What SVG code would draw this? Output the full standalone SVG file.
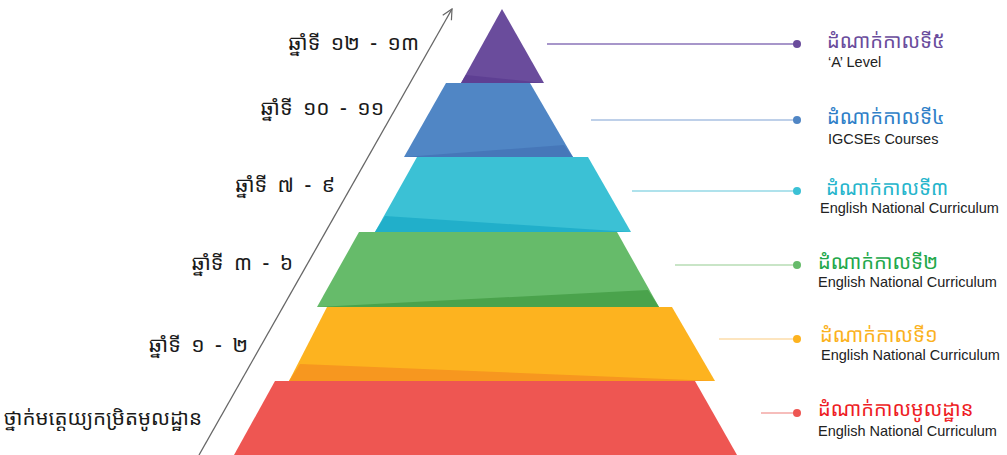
<svg xmlns="http://www.w3.org/2000/svg" width="1007" height="455" viewBox="0 0 1007 455">
<defs>
<style>
.km{font-family:"Noto Sans Khmer","Khmer OS","Noto Serif Khmer","Khmer OS System","DejaVu Sans",sans-serif;}
.yr{font-size:21px;fill:#1a1a1a;text-anchor:end;word-spacing:5px;}
.ttl{font-size:20px;}
.en{font-family:"Liberation Sans","Open Sans",sans-serif;font-size:14.5px;fill:#222;}
.lead{stroke-width:1.5;fill:none;}
</style>
<marker id="ah" viewBox="0 0 12 12" refX="11" refY="6" markerWidth="12" markerHeight="12" markerUnits="userSpaceOnUse" orient="auto">
<path d="M1,1 L11,6 L1,11" fill="none" stroke="#666" stroke-width="1.2"/>
</marker>
</defs>
<rect width="1007" height="455" fill="#fff"/>

<g id="connectors">
<line x1="199" y1="455" x2="452" y2="9" stroke="#666" stroke-width="1.3" marker-end="url(#ah)"/>
<line class="lead" x1="547" y1="44" x2="797" y2="44" stroke="#8a73b8"/>
<line class="lead" x1="591" y1="120" x2="797" y2="120" stroke="#a9c0e2"/>
<line class="lead" x1="632" y1="191" x2="797" y2="191" stroke="#94d8e6"/>
<line class="lead" x1="675" y1="265" x2="797" y2="265" stroke="#b7ddb5"/>
<line class="lead" x1="719" y1="339" x2="797" y2="339" stroke="#fddcaa"/>
<line class="lead" x1="761" y1="413" x2="797" y2="413" stroke="#f3a7a5"/>
</g>

<g id="tier5">
<polygon points="502,9 544,83 461,83" fill="#6a4c9c"/>
<polygon points="461,83 466,75 544,83" fill="#5e3f93"/>
<circle cx="797" cy="44" r="4" fill="#6a4c9c"/>
<text class="km ttl" x="827" y="48" fill="#6a4c9c">ដំណាក់កាលទី៥</text>
<text class="en" x="828" y="67">‘A’ Level</text>
<text class="km yr" x="419" y="50">ឆ្នាំទី ១២ - ១៣</text>
</g>

<g id="tier4">
<polygon points="446,83 530,83 573,157 404,157" fill="#5086c5"/>
<polygon points="404,157 564,145 573,157" fill="#4677b9"/>
<circle cx="797" cy="120" r="4" fill="#5086c5"/>
<text class="km ttl" x="827" y="124" fill="#2f7fc8">ដំណាក់កាលទី៤</text>
<text class="en" x="828" y="144">IGCSEs Courses</text>
<text class="km yr" x="384" y="115">ឆ្នាំទី ១០ - ១១</text>
</g>

<g id="tier3">
<polygon points="417,157 588,157 631,232 375,232" fill="#3bc1d5"/>
<polygon points="375,232 385,216 631,232" fill="#21afca"/>
<circle cx="797" cy="191" r="4" fill="#3bc1d5"/>
<text class="km ttl" x="826" y="195" fill="#26b5cc">ដំណាក់កាលទី៣</text>
<text class="en" x="820" y="213">English National Curriculum</text>
<text class="km yr" x="335" y="192">ឆ្នាំទី ៧ - ៩</text>
</g>

<g id="tier2">
<polygon points="359,232 617,232 659,307 317,307" fill="#66bb6a"/>
<polygon points="317,307 648,290 659,307" fill="#4aa34c"/>
<circle cx="797" cy="265" r="4" fill="#66bb6a"/>
<text class="km ttl" x="818" y="269" fill="#22a84a">ដំណាក់កាលទី២</text>
<text class="en" x="818" y="287">English National Curriculum</text>
<text class="km yr" x="293" y="270">ឆ្នាំទី ៣ - ៦</text>
</g>

<g id="tier1">
<polygon points="327,307 672,307 715,381 289,381" fill="#fdb31f"/>
<polygon points="289,381 300,364 715,381" fill="#f7971f"/>
<circle cx="797" cy="339" r="4" fill="#fdb31f"/>
<text class="km ttl" x="820" y="342" fill="#fbb21e">ដំណាក់កាលទី១</text>
<text class="en" x="821" y="360">English National Curriculum</text>
<text class="km yr" x="248" y="352">ឆ្នាំទី ១ - ២</text>
</g>

<g id="tier0">
<polygon points="275,381 695,381 737,455 234,455" fill="#ee5652"/>
<circle cx="797" cy="413" r="4" fill="#ee5652"/>
<text class="km ttl" x="818" y="416" fill="#ee1c24">ដំណាក់កាលមូលដ្ឋាន</text>
<text class="en" x="818" y="436">English National Curriculum</text>
<text class="km yr" x="202" y="425" style="font-size:20.5px;word-spacing:0">ថ្នាក់មត្តេយ្យកម្រិតមូលដ្ឋាន</text>
</g>
</svg>
